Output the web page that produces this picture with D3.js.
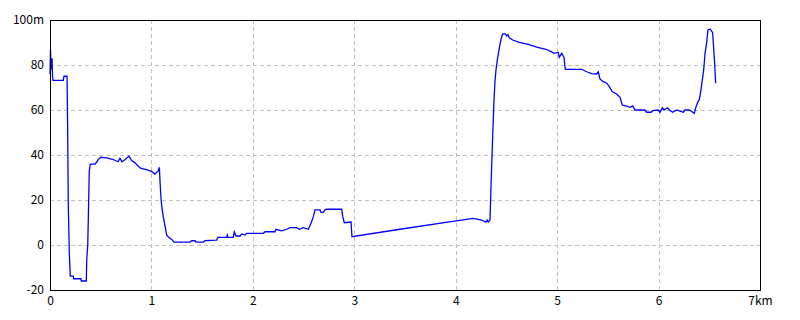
<!DOCTYPE html>
<html>
<head>
<meta charset="utf-8">
<script src="https://cdn.jsdelivr.net/npm/d3@7"></script>
<style>
  html, body { margin: 0; padding: 0; background: #fff; }
  svg { display: block; }
  text { font-family: "Noto Sans CJK JP", "DejaVu Sans", sans-serif; font-size: 12px; fill: #000; }
</style>
</head>
<body>
<svg id="chart" width="800" height="320"></svg>
<script>
// Distance (km) along the route
const distanceKm = [
  0, 0.005, 0.01, 0.02, 0.025, 0.03, 0.131, 0.138, 0.168, 0.174, 0.180, 0.190, 0.200, 0.230, 0.232, 0.306, 0.308, 0.358,
  0.362, 0.372, 0.378, 0.387, 0.397, 0.444, 0.463, 0.476, 0.503, 0.559, 0.624, 0.670, 0.690, 0.710, 0.740, 0.779, 0.805,
  0.838, 0.871, 0.897, 0.953, 1.000, 1.035, 1.068, 1.078,
  1.084, 1.094, 1.104, 1.117, 1.134, 1.151, 1.173, 1.200, 1.223, 1.380, 1.397, 1.430, 1.440, 1.511, 1.528, 1.643, 1.656,
  1.742, 1.748, 1.755, 1.807, 1.817, 1.834, 1.873, 1.890, 1.923, 1.939, 2.103, 2.120, 2.218, 2.228, 2.284, 2.334, 2.366,
  2.432, 2.458, 2.497, 2.547, 2.580, 2.596, 2.613, 2.662, 2.672, 2.695, 2.711, 2.728, 2.876, 2.886, 2.902, 2.968, 2.977,
  3.450, 4.003, 4.173, 4.256, 4.298, 4.311, 4.321, 4.338, 4.341, 4.351, 4.365, 4.377, 4.387, 4.397, 4.410, 4.424, 4.437,
  4.449, 4.463, 4.489, 4.503, 4.515, 4.528, 4.562, 4.627, 4.716, 4.798, 4.890, 4.946, 4.969, 5.011, 5.021, 5.045, 5.068,
  5.080, 5.242, 5.291, 5.341, 5.390, 5.406, 5.422, 5.455, 5.489, 5.514, 5.544, 5.587, 5.620, 5.642, 5.669, 5.718, 5.745,
  5.768, 5.866, 5.883, 5.926, 5.943, 5.997, 6.014, 6.037, 6.054, 6.086, 6.106, 6.139, 6.179, 6.211, 6.244, 6.260, 6.303,
  6.327, 6.352, 6.366, 6.382, 6.402, 6.418, 6.431, 6.445, 6.458, 6.474, 6.487, 6.510, 6.533, 6.553, 6.563
];
// Elevation (m) at each distance
const elevationM = [
  76, 87, 78, 83, 75, 73.2, 73.2, 75, 75, 52.6, 19, -3, -13.8, -13.8, -15, -15, -16, -16,
  -6.7, 0, 12, 32.6, 35.9, 36, 37, 38, 39, 38.7, 38, 37, 38.5, 37, 38, 39.5, 37.5,
  36.5, 35, 34, 33.5, 32.7, 31.5, 33, 34.5,
  28.9, 21, 16.3, 12.6, 8.4, 4.4, 3.3, 2.5, 1.3, 1.3, 1.9, 1.9, 1.3, 1.3, 1.9, 2.2, 3.4,
  3.4, 4.4, 3.4, 3.4, 5.9, 4, 4, 4.9, 4.4, 5.2, 5.2, 5.9, 5.9, 7, 6.3, 7, 7.7,
  7.7, 7, 7.7, 7, 10.4, 12.6, 15.6, 15.6, 14.5, 14.5, 15.6, 15.9, 15.9, 12.6, 9.9, 10.2, 3.7,
  7, 10.7, 11.8, 11.1, 10.2, 11.1, 10.2, 11.1, 15.8, 30.4, 49.2, 64, 72.6, 77.8, 82.2, 85.9, 89.3,
  91.9, 93.8, 93.8, 92.9, 93.5, 92.1, 91.1, 90.1, 89.2, 87.9, 87, 85.8, 85.2, 85.6, 83.4, 85.2, 83.4,
  78.1, 78.1, 77, 76.2, 76, 77, 73.8, 72.6, 71.9, 70.4, 68.1, 67.1, 65.6, 62.2, 61.9, 61.2, 61.8,
  60, 60, 59, 59, 59.7, 60, 59, 61, 60, 61, 60, 59, 60, 59.5, 59, 60, 60,
  59.3, 58.5, 61, 63, 64.7, 68.9, 73.3, 77.8, 85.2, 89.9, 95.6, 95.9, 94.4, 80.7, 71.9
];
const xTicks = [0, 1, 2, 3, 4, 5, 6, 7];
const xTickLabels = ["0", "1", "2", "3", "4", "5", "6", "7km"];
const yTicks = [-20, 0, 20, 40, 60, 80, 100];
const yTickLabels = ["-20", "0", "20", "40", "60", "80", "100m"];

const svg = d3.select("#chart");
const padL = 50, padR = 760, padT = 20, padB = 290;

const x = d3.scaleLinear().domain([0, 7]).range([padL, padR]);
const y = d3.scaleLinear().domain([-20, 100]).range([padB, padT]);

// grid
const grid = svg.append("g").attr("shape-rendering", "crispEdges");
grid.selectAll("line.vg").data(xTicks.slice(1, -1)).enter().append("line")
  .attr("x1", d => Math.round(x(d)) + 0.5).attr("x2", d => Math.round(x(d)) + 0.5)
  .attr("y1", padT).attr("y2", padB)
  .attr("stroke", "#c0c0c0").attr("stroke-dasharray", "4,3");
grid.selectAll("line.hg").data(yTicks.slice(1, -1)).enter().append("line")
  .attr("x1", padL).attr("x2", padR)
  .attr("y1", d => Math.round(y(d)) + 0.5).attr("y2", d => Math.round(y(d)) + 0.5)
  .attr("stroke", "#c0c0c0").attr("stroke-dasharray", "4,3");

// line
const pts = distanceKm.map((d, i) => [d, elevationM[i]]);
const line = d3.line().x(d => x(d[0])).y(d => y(d[1]));
svg.append("path").datum(pts)
  .attr("d", line)
  .attr("fill", "none")
  .attr("stroke", "#0000ff")
  .attr("stroke-width", 1.3)
  .attr("stroke-linejoin", "miter");

// frame
svg.append("rect")
  .attr("x", padL + 0.5).attr("y", padT + 0.5)
  .attr("width", padR - padL).attr("height", padB - padT)
  .attr("fill", "none").attr("stroke", "#000").attr("stroke-width", 1.2)
  .attr("shape-rendering", "crispEdges");

// axes
const xAxis = d3.axisBottom(x).tickValues(xTicks)
  .tickFormat((d, i) => xTickLabels[i]).tickSize(0).tickPadding(6);
const gx = svg.append("g").attr("transform", `translate(0,${padB})`).call(xAxis);
gx.select(".domain").remove();
gx.attr("font-size", null).attr("font-family", null);
gx.selectAll("text").style("fill", "#000");

const yAxis = d3.axisLeft(y).tickValues(yTicks)
  .tickFormat((d, i) => yTickLabels[i]).tickSize(0).tickPadding(6);
const gy = svg.append("g").attr("transform", `translate(${padL},0)`).call(yAxis);
gy.select(".domain").remove();
gy.attr("font-size", null).attr("font-family", null);
gy.selectAll("text").style("fill", "#000");
</script>
</body>
</html>
